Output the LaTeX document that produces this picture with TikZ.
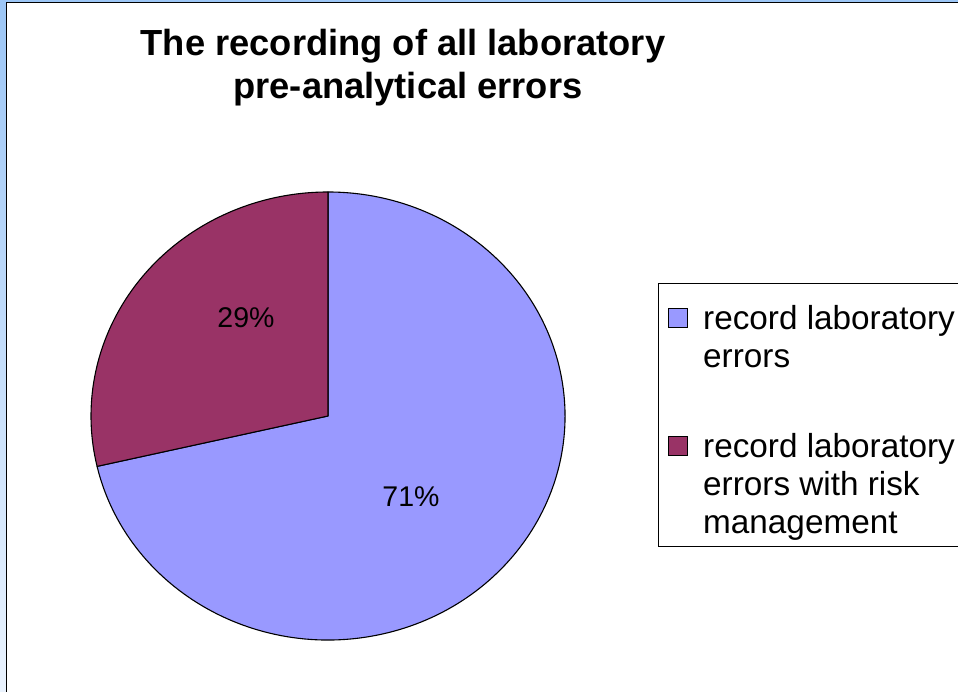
\documentclass[tikz,border=0pt]{standalone}
\usepackage{fontspec}
\setmainfont{Liberation Sans}
\definecolor{pieblue}{HTML}{9999FF}
\definecolor{piered}{HTML}{993366}
\definecolor{bandtop}{HTML}{9CC6F6}
\definecolor{bandbot}{HTML}{EAF3FE}
\begin{document}
\begin{tikzpicture}[x=1pt,y=1pt,
  slice/.style={draw=black,line width=1.1pt,line join=round},
  pct/.style={font=\fontsize{28.5}{34}\selectfont,inner sep=0pt},
  ttl/.style={font=\fontsize{36.3}{43}\selectfont\bfseries,anchor=base,inner sep=0pt},
  legtext/.style={font=\fontsize{33.3}{37}\selectfont,anchor=base west,inner sep=0pt},
  legkey/.style={draw=black,line width=1pt,minimum size=19pt,inner sep=0pt}]
\useasboundingbox (0,0) rectangle (958,692);
\fill[white] (0,0) rectangle (958,692);
% frame band
\shade[top color=bandtop,bottom color=bandbot] (0,0) rectangle (6,692);
\fill[bandtop] (0,689) rectangle (958,692);
\draw[line width=1.3pt] (6.6,0) -- (6.6,689.4) -- (958,689.4);
% title
\node[ttl] (title1) at (403,636) {The recording of all laboratory};
\node[ttl] (title2) at (408,593) {pre-analytical errors};
% pie
\coordinate (c) at (328,276);
\filldraw[slice,fill=pieblue] (c) -- +(193:237 and 224)
  arc[start angle=193,end angle=450,x radius=237,y radius=224] -- cycle;
\filldraw[slice,fill=piered] (c) -- +(90:237 and 224)
  arc[start angle=90,end angle=193,x radius=237,y radius=224] -- cycle;
\node[pct] (p29) at (246,374) {29\%};
\node[pct] (p71) at (411,195) {71\%};
% legend
\draw[line width=0.8pt] (658,409) rectangle (980,146);
\node[legkey,fill=pieblue] (k1) at (678,374) {};
\node[legkey,fill=piered] (k2) at (678,246) {};
\node[legtext] (l1a) at (703,362) {record laboratory};
\node[legtext] (l1b) at (703,324) {errors};
\node[legtext] (l2a) at (703,234) {record laboratory};
\node[legtext] (l2b) at (703,196) {errors with risk};
\node[legtext] (l2c) at (703,158) {management};
\end{tikzpicture}
\end{document}
